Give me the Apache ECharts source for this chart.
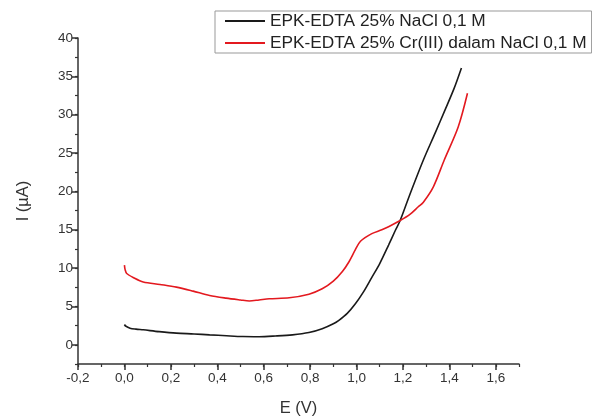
<!DOCTYPE html>
<html>
<head>
<meta charset="utf-8">
<script src="https://cdn.jsdelivr.net/npm/echarts@6/dist/echarts.min.js"></script>
<style>html,body{margin:0;padding:0;background:#fff}#c{width:592px;height:416px}</style>
</head>
<body>
<div id="c"></div>
<script>
const seriesNames = ['EPK-EDTA 25% NaCl 0,1 M', 'EPK-EDTA 25% Cr(III) dalam NaCl 0,1 M'];
const blackE = [0.000,0.005,0.024,0.05,0.081,0.15,0.224,0.30,0.367,0.44,0.51,0.58,0.65,0.724,0.795,0.852,0.90,0.924,0.96,0.995,1.03,1.066,1.10,1.138,1.167,1.188,1.231,1.288,1.34,1.381,1.42,1.452];
const blackI = [2.65,2.45,2.17,2.05,1.96,1.72,1.52,1.42,1.30,1.18,1.08,1.06,1.15,1.30,1.60,2.10,2.75,3.2,4.1,5.35,6.9,8.8,10.6,13.0,14.9,16.2,19.7,24.1,27.7,30.6,33.4,36.1];
const redE = [0.000,0.003,0.01,0.04,0.081,0.153,0.224,0.296,0.367,0.438,0.50,0.538,0.58,0.624,0.71,0.795,0.852,0.90,0.94,0.967,0.995,1.017,1.066,1.109,1.138,1.188,1.23,1.266,1.288,1.331,1.378,1.438,1.478];
const redI = [10.4,9.8,9.3,8.75,8.2,7.87,7.52,7.0,6.44,6.09,5.85,5.72,5.85,6.0,6.13,6.6,7.3,8.3,9.6,10.8,12.4,13.5,14.5,15.0,15.4,16.2,17.0,18.0,18.6,20.6,24.1,28.4,32.8];
const xTicks = [-0.2,0,0.2,0.4,0.6,0.8,1.0,1.2,1.4,1.6];
const yTicks = [0,5,10,15,20,25,30,35,40];

const zip = (a, b) => a.map((v, i) => [v, b[i]]);
const fmtX = v => (Math.round(v * 10) / 10).toFixed(1).replace('.', ',');
const axisCol = '#333';
const lbl = {color: '#333', fontSize: 13.5, fontFamily: 'Liberation Sans, Arial, sans-serif'};

const chart = echarts.init(document.getElementById('c'), null, {renderer: 'canvas'});
chart.setOption({
  animation: false,
  backgroundColor: '#fff',
  grid: {left: 78, right: 73, top: 38, bottom: 52, containLabel: false, outerBoundsMode: 'none'},
  legend: {
    left: 215, top: 11, orient: 'vertical',
    icon: 'rect', itemWidth: 40, itemHeight: 2, itemGap: 2,
    padding: [0, 5, 0, 10],
    borderColor: '#999', borderWidth: 1, backgroundColor: '#fff',
    textStyle: {color: '#222', fontSize: 17.3, lineHeight: 20, fontFamily: 'Liberation Sans, Arial, sans-serif'},
    data: seriesNames
  },
  xAxis: [{
    type: 'value', min: -0.2, max: 1.7, position: 'bottom',
    name: 'E (V)', nameLocation: 'middle', nameGap: 36,
    nameTextStyle: {color: '#333', fontSize: 16.5, fontFamily: 'Liberation Sans, Arial, sans-serif'},
    axisLine: {show: true, onZero: false, lineStyle: {color: axisCol, width: 1.5}},
    axisTick: {show: true, inside: false, length: 6, customValues: xTicks, lineStyle: {color: axisCol, width: 1.5}},
    axisLabel: Object.assign({customValues: xTicks, formatter: fmtX, margin: 7}, lbl),
    splitLine: {show: false}
  }, {
    type: 'value', min: -0.2, max: 1.7, interval: 0.1, position: 'bottom',
    axisLine: {show: false, onZero: false},
    axisTick: {show: true, length: 3, lineStyle: {color: axisCol, width: 1.2}},
    axisLabel: {show: false},
    splitLine: {show: false}
  }],
  yAxis: [{
    type: 'value', min: -2.5, max: 40, position: 'left',
    name: 'I (µA)', nameLocation: 'middle', nameGap: 46, nameRotate: 90,
    nameTextStyle: {color: '#333', fontSize: 16.5, fontFamily: 'Liberation Sans, Arial, sans-serif'},
    axisLine: {show: true, onZero: false, lineStyle: {color: axisCol, width: 1.5}},
    axisTick: {show: true, length: 6, customValues: yTicks, lineStyle: {color: axisCol, width: 1.5}},
    axisLabel: Object.assign({customValues: yTicks, margin: 5}, lbl),
    splitLine: {show: false}
  }, {
    type: 'value', min: -2.5, max: 40, interval: 2.5, position: 'left',
    axisLine: {show: false, onZero: false},
    axisTick: {show: true, length: 3, lineStyle: {color: axisCol, width: 1.2}},
    axisLabel: {show: false},
    splitLine: {show: false}
  }],
  series: [{
    name: seriesNames[0], type: 'line', xAxisIndex: 0, yAxisIndex: 0,
    data: zip(blackE, blackI), showSymbol: false, smooth: 0.3,
    lineStyle: {color: '#1a1a1a', width: 1.6}, itemStyle: {color: '#1a1a1a'}
  }, {
    name: seriesNames[1], type: 'line', xAxisIndex: 0, yAxisIndex: 0,
    data: zip(redE, redI), showSymbol: false, smooth: 0.3,
    lineStyle: {color: '#e3191f', width: 1.6}, itemStyle: {color: '#e3191f'}
  }]
});
</script>
</body>
</html>
